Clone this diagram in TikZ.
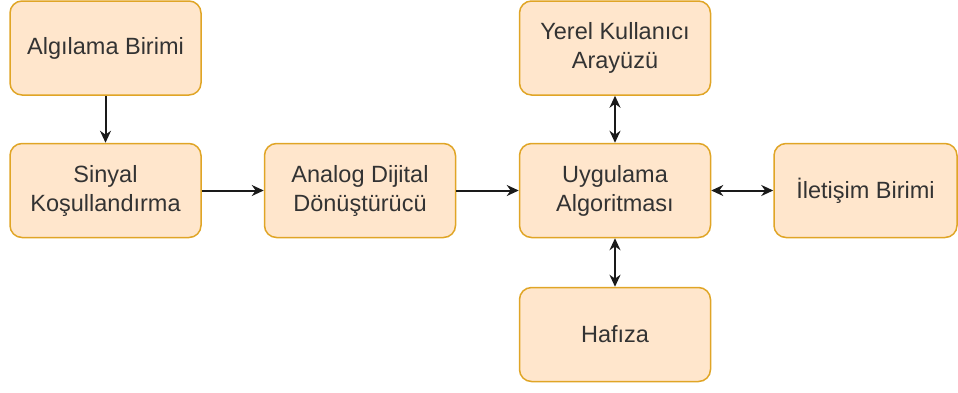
\documentclass[tikz,border=0pt]{standalone}
\usepackage{fontspec}
\setmainfont{Liberation Sans}
\usetikzlibrary{arrows.meta}
\definecolor{boxfill}{HTML}{FFE6CC}
\definecolor{boxline}{HTML}{E0A526}
\definecolor{boxtext}{HTML}{333333}
\definecolor{wire}{HTML}{1A1A1A}
\begin{document}
\begin{tikzpicture}[x=1pt,y=-1pt,
  >={Stealth[length=12pt,width=11pt]},
  block/.style={draw=boxline, fill=boxfill, line width=1.5pt, rounded corners=12pt,
    minimum width=191pt, minimum height=94pt, inner sep=2pt, align=center,
    text=boxtext, font=\fontsize{23.5}{29}\selectfont},
  link/.style={draw=wire, line width=2pt, ->},
  duplex/.style={draw=wire, line width=2pt, <->}]
\useasboundingbox (0,0) rectangle (958,392);

% processing chain
\node[block] (sense) at (105.5,48) {Algılama Birimi};
\node[block] (cond) at (105.5,190.5) {Sinyal\\Koşullandırma};
\node[block] (adc) at (360,190.5) {Analog Dijital\\Dönüştürücü};
\node[block] (algo) at (615,190.5) {Uygulama\\Algoritması};

% peripherals around the algorithm block
\node[block] (ui) at (615,48) {Yerel Kullanıcı\\Arayüzü};
\node[block] (mem) at (615,334.5) {Hafıza};
\node[block, minimum width=183pt] (comm) at (865.5,190.5) {İletişim Birimi};

\draw[link] (sense) -- (cond);
\draw[link] (cond) -- (adc);
\draw[link] (adc) -- (algo);
\draw[duplex] (algo) -- (ui);
\draw[duplex] (algo) -- (mem);
\draw[duplex] (algo) -- (comm);
\end{tikzpicture}
\end{document}
